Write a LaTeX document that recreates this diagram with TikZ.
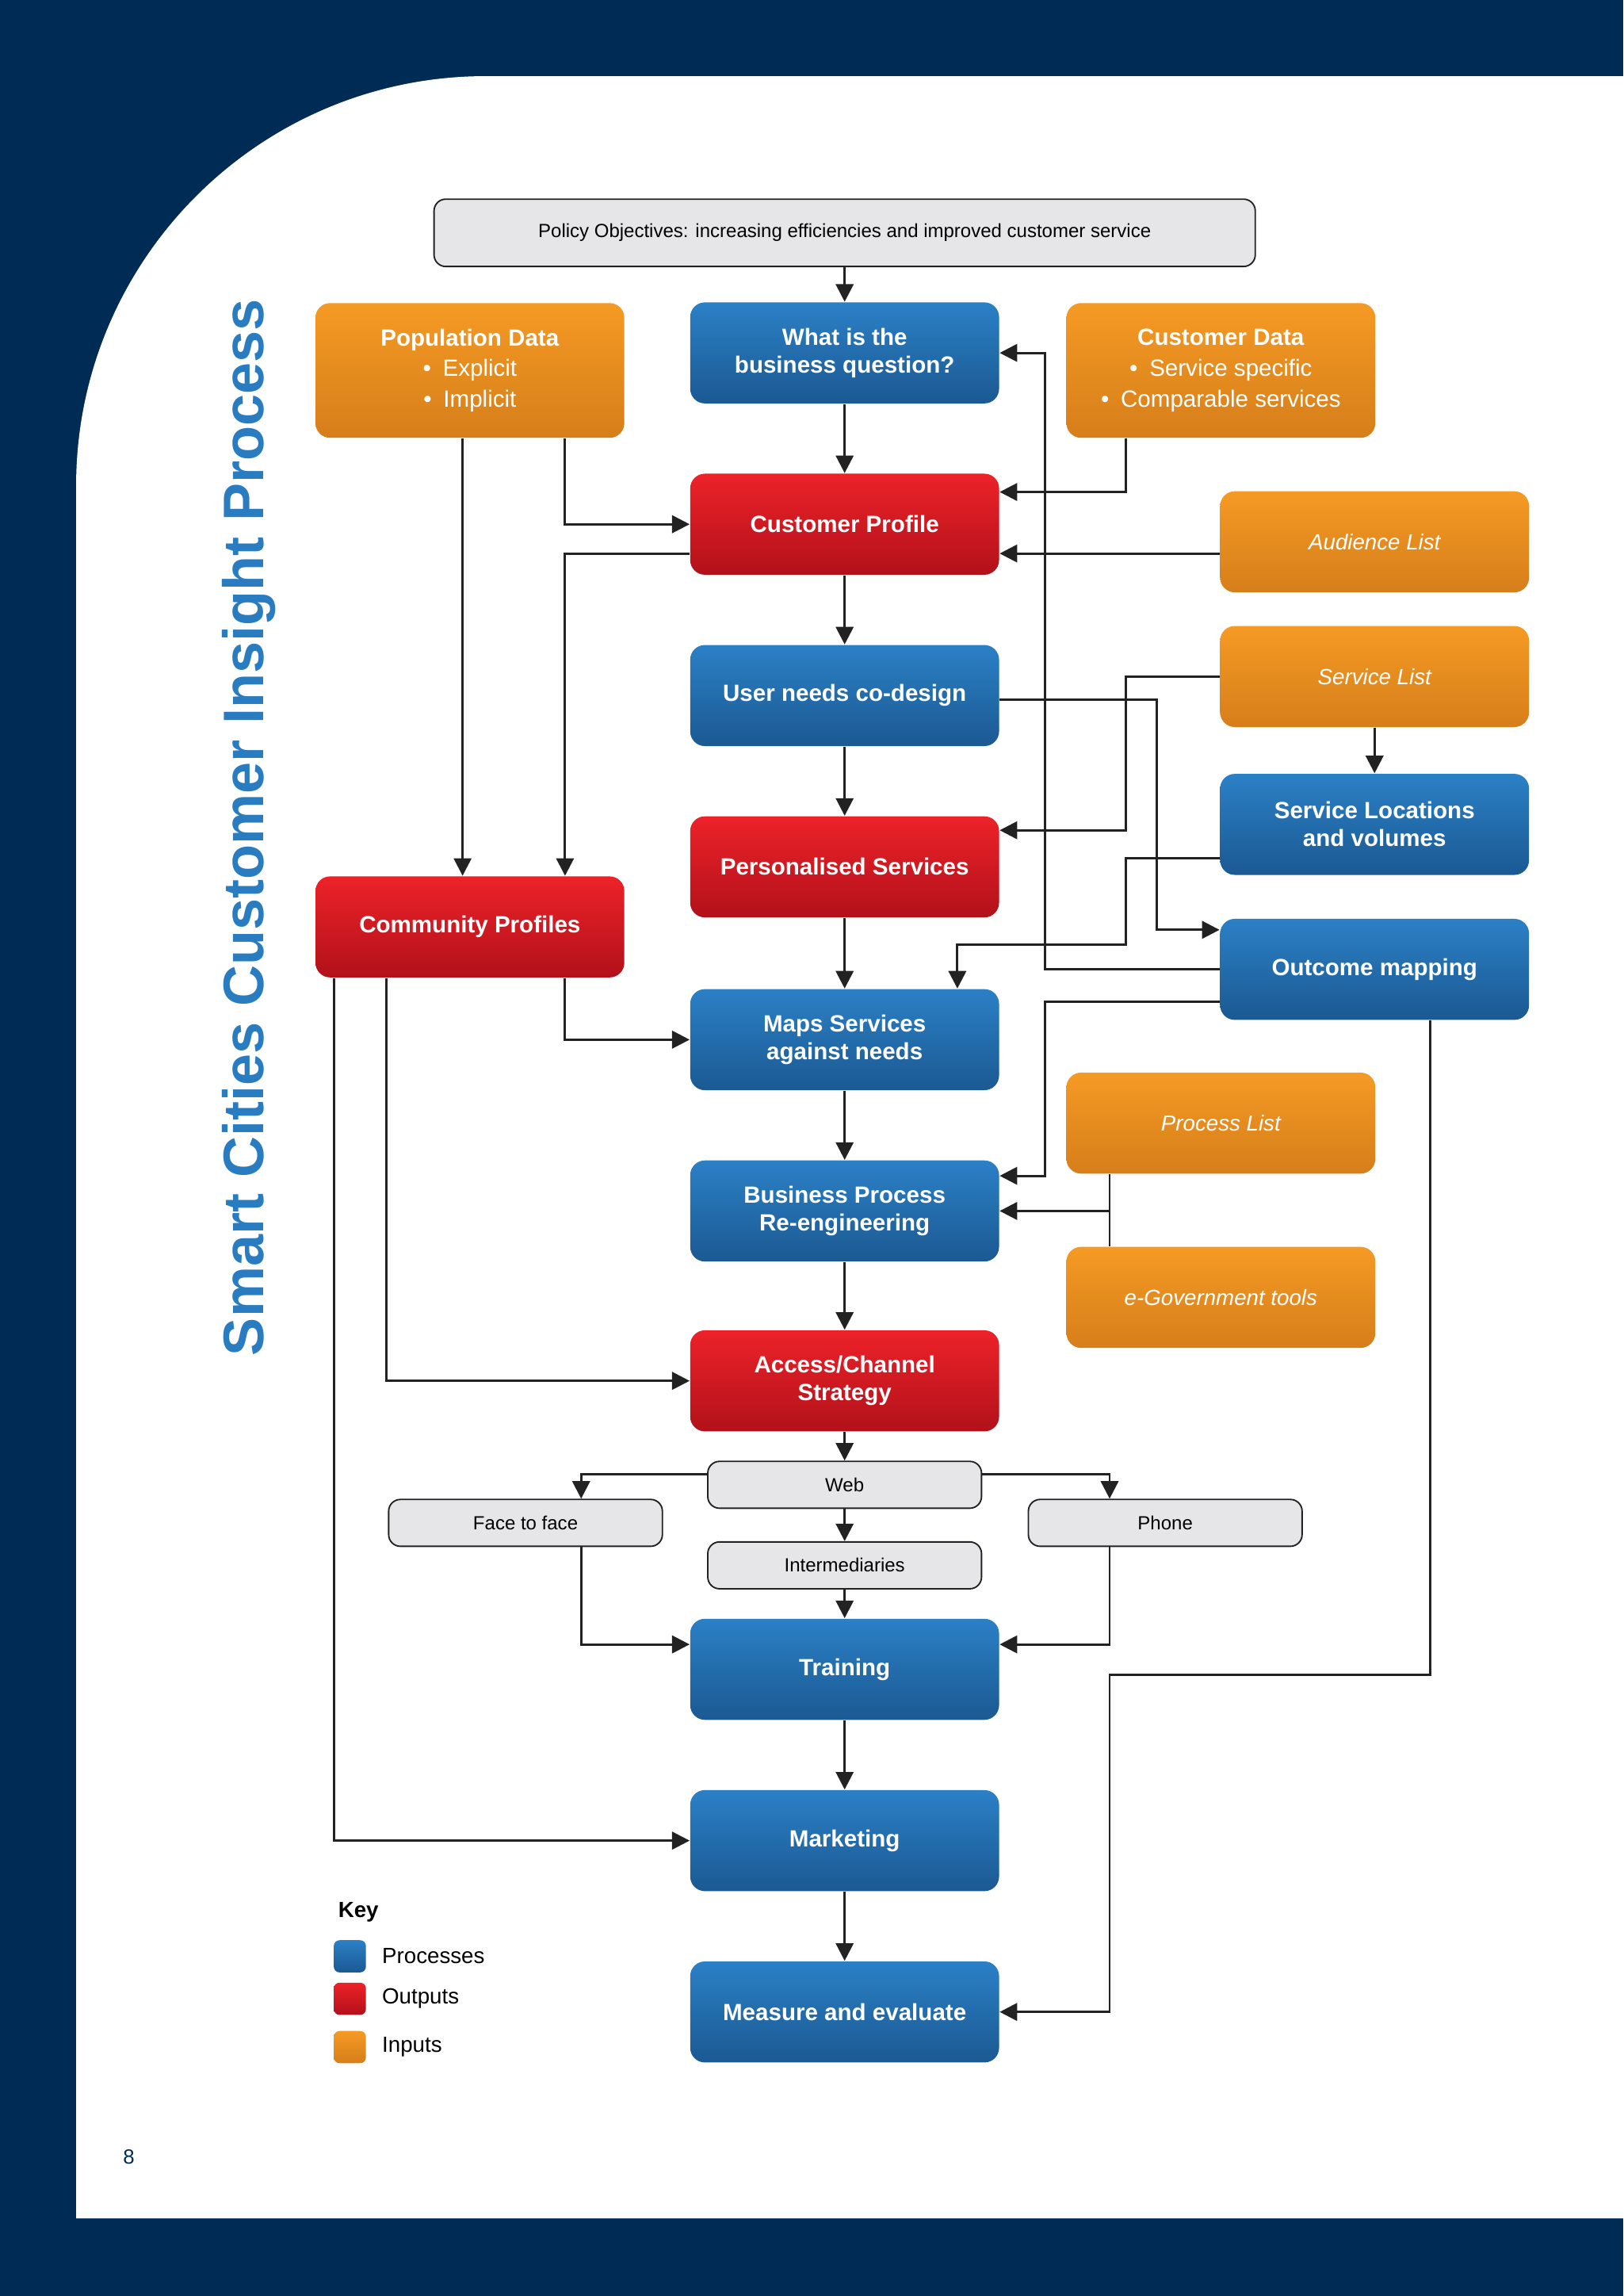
\documentclass[tikz,border=0pt]{standalone}
\usepackage{fontspec}
\setmainfont{Liberation Sans}
\usetikzlibrary{arrows.meta}
\definecolor{navy}{HTML}{002B55}
\definecolor{ttl}{HTML}{2A7CC0}
\definecolor{lncol}{HTML}{222222}
\definecolor{bt}{RGB}{43,128,198}
\definecolor{bb}{RGB}{27,89,146}
\definecolor{rt}{RGB}{237,34,41}
\definecolor{rb}{RGB}{178,17,26}
\definecolor{ot}{RGB}{245,154,36}
\definecolor{ob}{RGB}{214,126,26}
\definecolor{gf}{RGB}{230,230,232}
\begin{document}
\begin{tikzpicture}[x=0.5pt,y=-0.5pt,
 box/.style={rounded corners=5pt, minimum width=105.5pt, minimum height=34.5pt, align=center, text=white, font=\bfseries\fontsize{8}{9.5}\selectfont, inner sep=2pt},
 proc/.style={box, top color=bt, bottom color=bb},
 outp/.style={box, top color=rt, bottom color=rb},
 inp/.style={box, top color=ot, bottom color=ob},
 inpi/.style={inp, font=\itshape\fontsize{7.5}{9}\selectfont},
 gry/.style={draw=lncol, line width=0.5pt, fill=gf, rounded corners=4pt, minimum width=93.5pt, minimum height=16pt, font=\fontsize{6.5}{7.5}\selectfont, inner sep=1pt},
 arr/.style={draw=lncol, line width=0.8pt, -{Triangle[length=6pt,width=6pt]}},
 lnk/.style={draw=lncol, line width=0.8pt}]
\useasboundingbox (0,0) rectangle (1109,1568);
\fill[navy] (0,0) rectangle (1109,1568);
\fill[white] (52,1515) -- (52,332) arc[start angle=180,end angle=270,radius=280] -- (1200,52) -- (1200,1515) -- cycle;
\node[text=navy, font=\fontsize{7}{8}\selectfont] (pg) at (88,1473) {8};
\node[rotate=90, text=ttl, font=\bfseries\fontsize{19.5}{22}\selectfont] (title) at (170,565) {Smart Cities Customer Insight Process};

\node[gry, minimum width=280.5pt, minimum height=23pt] (policy) at (577,159) {Policy Objectives: increasing efficiencies and improved customer service};
\node[proc] (question) at (577,241) {What is the\\business question?};
\node[inp, minimum height=46pt, font=\fontsize{8}{10.5}\selectfont] (pop) at (321,253) {\textbf{Population Data}\\ \textbullet\enspace Explicit\\ \textbullet\enspace Implicit};
\node[inp, minimum height=46pt, font=\fontsize{8}{10.5}\selectfont] (cust) at (834,253) {\textbf{Customer Data}\\ \textbullet\enspace Service specific\\ \textbullet\enspace Comparable services};
\node[outp] (profile) at (577,358) {Customer Profile};
\node[inpi] (aud) at (939,370) {Audience List};
\node[proc] (needs) at (577,475) {User needs co-design};
\node[inpi] (slist) at (939,462) {Service List};
\node[proc] (sloc) at (939,563) {Service Locations\\and volumes};
\node[outp] (pers) at (577,592) {Personalised Services};
\node[outp] (comm) at (321,633) {Community Profiles};
\node[proc] (outc) at (939,662) {Outcome mapping};
\node[proc] (maps) at (577,710) {Maps Services\\against needs};
\node[inpi] (plist) at (834,767) {Process List};
\node[proc] (bpr) at (577,827) {Business Process\\Re-engineering};
\node[inpi] (egov) at (834,886) {e-Government tools};
\node[outp] (access) at (577,943) {Access/Channel\\Strategy};
\node[gry] (web) at (577,1014) {Web};
\node[gry] (face) at (359,1040) {Face to face};
\node[gry] (phone) at (796,1040) {Phone};
\node[gry] (inter) at (577,1069) {Intermediaries};
\node[proc] (train) at (577,1140) {Training};
\node[proc] (mark) at (577,1257) {Marketing};
\node[proc] (meas) at (577,1374) {Measure and evaluate};

\node[anchor=west, font=\bfseries\fontsize{7.5}{9}\selectfont] (key) at (224,1306) {Key};
\node[proc, minimum width=11pt, minimum height=11pt, rounded corners=2pt, inner sep=0pt] (k1) at (239,1336) {};
\node[outp, minimum width=11pt, minimum height=11pt, rounded corners=2pt, inner sep=0pt] (k2) at (239,1365) {};
\node[inp, minimum width=11pt, minimum height=11pt, rounded corners=2pt, inner sep=0pt] (k3) at (239,1398) {};
\node[anchor=west, font=\fontsize{7.5}{9}\selectfont] (l1) at (254,1336) {Processes};
\node[anchor=west, font=\fontsize{7.5}{9}\selectfont] (l2) at (254,1365) {Outputs};
\node[anchor=west, font=\fontsize{7.5}{9}\selectfont] (l3) at (254,1398) {Inputs};

\draw[arr] (policy) -- (question);
\draw[arr] (question) -- (profile);
\draw[arr] (profile) -- (needs);
\draw[arr] (needs) -- (pers);
\draw[arr] (pers) -- (maps);
\draw[arr] (maps) -- (bpr);
\draw[arr] (bpr) -- (access);
\draw[arr] (access) -- (web);
\draw[arr] (web) -- (inter);
\draw[arr] (inter) -- (train);
\draw[arr] (train) -- (mark);
\draw[arr] (mark) -- (meas);

\draw[arr] (pop.south -| 316,0) -- (comm.north -| 316,0);
\draw[arr] (pop.south -| 386,0) |- (profile.west);
\draw[arr] (cust.south -| 769,0) |- (profile.east |- 0,336);
\draw[arr] (aud.west |- 0,378) -- (profile.east |- 0,378);
\draw[arr] (profile.west |- 0,378) -| (comm.north -| 386,0);
\draw[arr] (outc.west) -- (714,662) |- (question.east);
\draw[arr] (needs.east |- 0,478) -| (790,635) -- (outc.west |- 0,635);
\draw[arr] (outc.west |- 0,684) -| (714,803) -- (bpr.east |- 0,803);
\draw[arr] (slist.west) -| (769,567) -- (pers.east |- 0,567);
\draw[arr] (slist) -- (sloc);
\draw[arr] (sloc.west |- 0,586) -| (769,645) -| (maps.north -| 654,0);
\draw[arr] (comm.south -| 386,0) |- (maps.west);
\draw[arr] (comm.south -| 264,0) |- (access.west);
\draw[arr] (comm.south -| 228,0) |- (mark.west);
\draw[lnk] (plist.south -| 758,0) -- (egov.north -| 758,0);
\draw[arr] (758,827) -- (bpr.east);
\draw[arr] (web.west |- 0,1007) -| (face.north -| 397,0);
\draw[arr] (web.east |- 0,1007) -| (phone.north -| 758,0);
\draw[arr] (face.south -| 397,0) |- (train.west |- 0,1123);
\draw[arr] (phone.south -| 758,0) |- (train.east |- 0,1123);
\draw[arr] (outc.south -| 977,0) |- (758,1144) |- (meas.east);
\end{tikzpicture}
\end{document}
